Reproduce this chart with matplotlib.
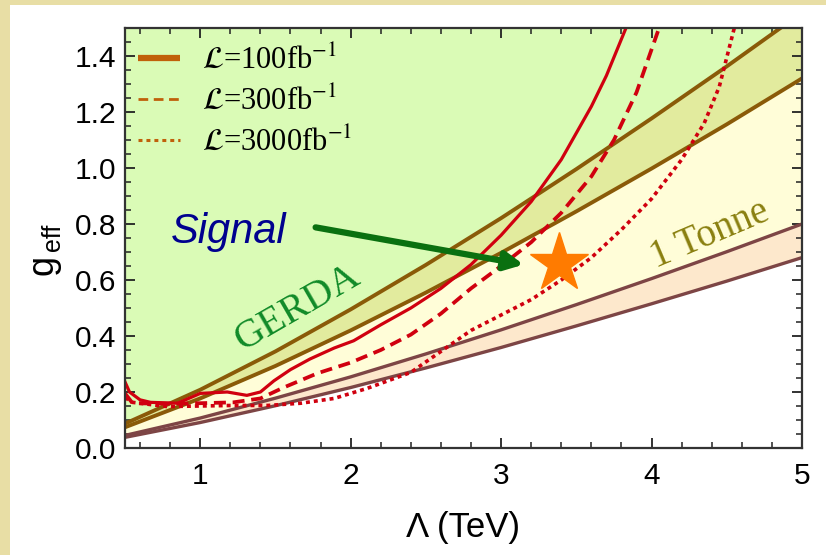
import matplotlib
matplotlib.use('Agg')
import matplotlib.pyplot as plt
from matplotlib.patches import Rectangle
from matplotlib.ticker import MultipleLocator

plt.rcParams['font.family'] = ['Liberation Sans', 'DejaVu Sans']
plt.rcParams['mathtext.fontset'] = 'stix'

# ---------------- data ----------------
lam_band = [0.5, 1.0, 1.5, 2.0, 2.5, 3.0, 3.5, 4.0, 4.5, 5.0]
gerda_upper = [0.087, 0.208, 0.345, 0.495, 0.654, 0.821, 0.996, 1.177, 1.363, 1.555]
gerda_lower = [0.074, 0.177, 0.293, 0.420, 0.555, 0.697, 0.845, 0.998, 1.156, 1.320]
tonne_upper = [0.045, 0.107, 0.178, 0.254, 0.336, 0.422, 0.512, 0.605, 0.701, 0.800]
tonne_lower = [0.038, 0.091, 0.151, 0.216, 0.286, 0.359, 0.436, 0.515, 0.596, 0.680]

lam_100 = [0.50, 0.53, 0.60, 0.67, 0.85, 1.00, 1.18, 1.31, 1.40, 1.49, 1.60, 1.73,
           1.89, 2.02, 2.20, 2.40, 2.60, 2.80, 3.00, 3.20, 3.40, 3.60, 3.70, 3.83]
g_100 = [0.236, 0.200, 0.172, 0.163, 0.160, 0.195, 0.200, 0.188, 0.200, 0.240, 0.280, 0.318,
         0.357, 0.383, 0.440, 0.500, 0.570, 0.655, 0.760, 0.880, 1.030, 1.220, 1.330, 1.500]

lam_300 = [0.50, 0.55, 0.78, 1.00, 1.22, 1.40, 1.55, 1.78, 2.00, 2.20, 2.40, 2.60,
           2.80, 3.00, 3.20, 3.40, 3.60, 3.75, 3.90, 4.05]
g_300 = [0.195, 0.160, 0.158, 0.160, 0.163, 0.177, 0.215, 0.267, 0.305, 0.350, 0.405, 0.480,
         0.570, 0.650, 0.735, 0.840, 0.970, 1.100, 1.270, 1.500]

lam_3000 = [0.50, 0.55, 0.78, 1.00, 1.22, 1.45, 1.67, 1.89, 2.11, 2.40, 2.80, 3.20,
            3.40, 3.60, 3.80, 4.00, 4.20, 4.35, 4.45, 4.55]
g_3000 = [0.180, 0.163, 0.148, 0.150, 0.152, 0.152, 0.160, 0.177, 0.213, 0.270, 0.420, 0.530,
          0.600, 0.680, 0.780, 0.890, 1.030, 1.160, 1.290, 1.500]

lumi_labels = [r'$\mathcal{L}$=100fb$^{-1}$', r'$\mathcal{L}$=300fb$^{-1}$',
               r'$\mathcal{L}$=3000fb$^{-1}$']
signal_point = (3.387, 0.662)
arrow_start = (1.767, 0.788)
arrow_end = (3.15, 0.655)
x_ticks = [1, 2, 3, 4, 5]
y_ticks = [0.0, 0.2, 0.4, 0.6, 0.8, 1.0, 1.2, 1.4]

# ---------------- figure ----------------
W, H = 826, 555
fig = plt.figure(figsize=(W / 100, H / 100), dpi=100)
fig.patch.set_facecolor('white')
fig.add_artist(Rectangle((0, 1 - 5 / H), 1, 5 / H, transform=fig.transFigure,
                         facecolor='#e8dea5', edgecolor='none', zorder=0))
fig.add_artist(Rectangle((0, 0), 10 / W, 1, transform=fig.transFigure,
                         facecolor='#e8dea5', edgecolor='none', zorder=0))

AX_L, AX_R, AX_T, AX_B = 125, 802, 28, 448
ax = fig.add_axes([AX_L / W, 1 - AX_B / H, (AX_R - AX_L) / W, (AX_B - AX_T) / H])
ax.set_xlim(0.5, 5)
ax.set_ylim(0, 1.5)
ax.set_facecolor('white')


def ax_xy(px, py):
    return ((px - AX_L) / (AX_R - AX_L), (AX_B - py) / (AX_B - AX_T))


top = [2.0] * len(lam_band)
ax.fill_between(lam_band, gerda_upper, top, color='#dafbb6', lw=0, zorder=1)
ax.fill_between(lam_band, gerda_lower, gerda_upper, color='#e2eb9e', lw=0, zorder=1)
ax.fill_between(lam_band, tonne_upper, gerda_lower, color='#fffdd8', lw=0, zorder=1)
ax.fill_between(lam_band, tonne_lower, tonne_upper, color='#fde8cc', lw=0, zorder=1)

brown = '#8a5a08'
maroon = '#7d4545'
ax.plot(lam_band, gerda_upper, color=brown, lw=2.8, zorder=2)
ax.plot(lam_band, gerda_lower, color=brown, lw=2.8, zorder=2)
ax.plot(lam_band, tonne_upper, color=maroon, lw=2.4, zorder=2)
ax.plot(lam_band, tonne_lower, color=maroon, lw=2.4, zorder=2)

red = '#d0000f'
ax.plot(lam_100, g_100, color=red, lw=2.3, zorder=4)
ax.plot(lam_300, g_300, color=red, lw=2.7, dashes=(3.2, 1.8), zorder=4)
ax.plot(lam_3000, g_3000, color=red, lw=2.6, dashes=(1.1, 1.1), zorder=4)

ax.plot([signal_point[0]], [signal_point[1]], marker='*', ms=44, color='#ff7b00',
        mec='#ff7b00', zorder=6, linestyle='none')

ax.annotate('', xy=arrow_end, xytext=arrow_start,
            arrowprops=dict(arrowstyle='-|>,head_length=1.1,head_width=0.55',
                            color='#0a7010', lw=4.5, shrinkA=0, shrinkB=0),
            zorder=7)
ax.text(1.19, 0.773, 'Signal', color='#00008f', fontsize=30, style='italic',
        ha='center', va='center', zorder=7)

serif = ['Liberation Serif', 'DejaVu Serif']
ax.text(1.647, 0.50, 'GERDA', color='#108a28', fontsize=29, family=serif, rotation=30,
        ha='center', va='center', rotation_mode='anchor', zorder=5)
ax.text(4.387, 0.76, '1 Tonne', color='#8a8010', fontsize=28, family=serif, rotation=23,
        ha='center', va='center', rotation_mode='anchor', zorder=5)

# legend (drawn by hand to match the reference placement)
leg_color = '#c0600a'
leg_styles = [dict(lw=4.5), dict(lw=2.0, dashes=(3.5, 2.0)), dict(lw=2.2, dashes=(1.3, 1.3))]
leg_rows = [58, 99, 140]
for lab, st, py in zip(lumi_labels, leg_styles, leg_rows):
    x0, y0 = ax_xy(138, py)
    x1, _ = ax_xy(180, py)
    ax.plot([x0, x1], [y0, y0], color=leg_color, transform=ax.transAxes,
            solid_capstyle='butt', zorder=8, **st)
    tx, ty = ax_xy(202, py + 10)
    ax.text(tx, ty, lab, transform=ax.transAxes, fontsize=22, family=serif,
            ha='left', va='baseline', zorder=8)

ax.set_xticks(x_ticks)
ax.set_yticks(y_ticks)
ax.set_yticklabels(['%.1f' % v for v in y_ticks])
ax.xaxis.set_minor_locator(MultipleLocator(0.2))
ax.yaxis.set_minor_locator(MultipleLocator(0.05))
ax.tick_params(which='both', direction='in', top=True, right=True, color='#222222')
ax.tick_params(which='major', length=7, width=1.3, labelsize=21.5)
ax.tick_params(which='minor', length=4, width=1.1)
ax.tick_params(axis='x', which='major', pad=10)
ax.tick_params(axis='y', which='major', pad=6)
for s in ax.spines.values():
    s.set_color('#333333')
    s.set_linewidth(1.6)
    s.set_zorder(9)

ax.set_xlabel('\u039b (TeV)', fontsize=25)
ax.xaxis.set_label_coords(0.5, ax_xy(0, 527)[1])
ax.xaxis.label.set_va('center')

# y label: "g" with subscript "eff", rotated
fig.text(52 / W, 1 - 275 / H, 'g', fontsize=26, rotation=90, rotation_mode='anchor',
         ha='left', va='baseline')
fig.text(60 / W, 1 - 251 / H, 'eff', fontsize=18, rotation=90, rotation_mode='anchor',
         ha='left', va='baseline')

fig.savefig('out.png', dpi=100)
